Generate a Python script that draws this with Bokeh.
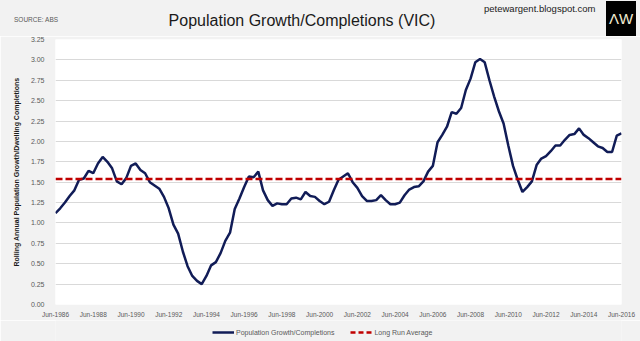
from bokeh.plotting import figure
from bokeh.layouts import column
from bokeh.models import Range1d, FixedTicker, Legend, LegendItem, Div
from bokeh.embed import file_html
from bokeh.resources import INLINE

# ---------------- data ----------------
years = list(range(1986, 2017))
months = ["Mar", "Jun", "Sep", "Dec"]
quarters = [f"{m}-{y}" for y in years for m in months]
quarters = quarters[quarters.index("Jun-1986"):quarters.index("Jun-2016") + 1]

ratio = [
    1.12, 1.18, 1.25, 1.33, 1.40, 1.53, 1.545, 1.64, 1.61, 1.73,
    1.81, 1.75, 1.67, 1.51, 1.475, 1.55, 1.70, 1.73, 1.65, 1.61,
    1.50, 1.46, 1.42, 1.32, 1.18, 0.98, 0.87, 0.65, 0.47, 0.35,
    0.29, 0.25, 0.35, 0.48, 0.52, 0.63, 0.78, 0.88, 1.17, 1.30,
    1.44, 1.57, 1.56, 1.63, 1.40, 1.28, 1.21, 1.24, 1.23, 1.23,
    1.30, 1.31, 1.29, 1.38, 1.33, 1.32, 1.27, 1.23, 1.26, 1.40,
    1.53, 1.57, 1.61, 1.50, 1.43, 1.33, 1.27, 1.27, 1.28, 1.34,
    1.28, 1.23, 1.23, 1.25, 1.34, 1.41, 1.44, 1.45, 1.51, 1.63,
    1.70, 1.99, 2.08, 2.18, 2.36, 2.34, 2.41, 2.63, 2.77, 2.97,
    3.01, 2.97, 2.75, 2.55, 2.37, 2.22, 1.95, 1.70, 1.53, 1.38,
    1.44, 1.51, 1.71, 1.79, 1.82, 1.88, 1.95, 1.95, 2.02, 2.08,
    2.09, 2.16, 2.08, 2.04, 1.99, 1.94, 1.92, 1.87, 1.87, 2.07,
    2.10,
]
long_run_average = 1.54

tick_labels = ["Jun-1986", "Jun-1988", "Jun-1990", "Jun-1992", "Jun-1994",
               "Jun-1996", "Jun-1998", "Jun-2000", "Jun-2002", "Jun-2004",
               "Jun-2006", "Jun-2008", "Jun-2010", "Jun-2012", "Jun-2014",
               "Jun-2016"]
y_ticks = [0.0, 0.25, 0.5, 0.75, 1.0, 1.25, 1.5, 1.75, 2.0, 2.25, 2.5, 2.75, 3.0, 3.25]

title_text = "Population Growth/Completions (VIC)"
source_text = "SOURCE: ABS"
blog_text = "petewargent.blogspot.com"
logo_text = "\u039bW"
y_label = "Rolling Annual Population Growth/Dwelling Completions"
series_name = "Population Growth/Completions"
avg_name = "Long Run Average"

# ---------------- style ----------------
FONT = "Liberation Sans"
BG = "#f2f2f2"
NAVY = "#111c57"
RED = "#c00000"
GREY_TXT = "#595959"

# ---------------- header (HTML text) ----------------
header_html = (
    f'<div style="position:relative;width:640px;height:36px;background:{BG};'
    f'font-family:Liberation Sans,Arial,sans-serif;overflow:hidden;">'
    f'<div style="position:absolute;left:14px;top:16px;font-size:6.5px;line-height:8px;'
    f'color:{GREY_TXT};white-space:nowrap;">{source_text}</div>'
    f'<div style="position:absolute;left:0;width:604px;top:11px;font-size:16px;line-height:20px;'
    f'color:#1a1a1a;text-align:center;white-space:nowrap;">{title_text}</div>'
    f'<div style="position:absolute;left:484px;top:3px;font-size:9.5px;line-height:12px;'
    f'color:#1a1a1a;white-space:nowrap;">{blog_text}</div>'
    f'<div style="position:absolute;left:606px;top:1px;width:30px;height:35px;background:#000;'
    f'color:#f2ecd2;font-size:15px;line-height:35px;text-align:center;">{logo_text}</div>'
    f'</div>'
)
header = Div(text=header_html, width=640, height=36, margin=0,
             styles={"background-color": BG})

# ---------------- main chart ----------------
x = list(range(len(ratio)))
p = figure(width=640, height=284, x_range=Range1d(0, len(ratio) - 1),
           y_range=Range1d(0, 3.25), toolbar_location=None, output_backend="svg",
           min_border_left=55, min_border_right=19, min_border_top=3,
           min_border_bottom=16)
p.background_fill_color = "white"
p.border_fill_color = BG
p.outline_line_color = None

p.xgrid.visible = False
p.ygrid.grid_line_color = "#d9d9d9"
p.ygrid.grid_line_width = 1
p.ygrid.ticker = FixedTicker(ticks=y_ticks)

p.yaxis.ticker = FixedTicker(ticks=y_ticks)
p.yaxis.major_label_overrides = {t: f"{t:.2f}" for t in y_ticks}
p.xaxis.ticker = FixedTicker(ticks=[quarters.index(t) for t in tick_labels])
p.xaxis.major_label_overrides = {quarters.index(t): t for t in tick_labels}

for ax in (p.xaxis[0], p.yaxis[0]):
    ax.axis_line_color = None
    ax.major_tick_line_color = None
    ax.minor_tick_line_color = None
    ax.major_label_text_font = FONT
    ax.major_label_text_color = GREY_TXT
p.xaxis.major_label_text_font_size = "6.5px"
p.yaxis.major_label_text_font_size = "7px"
p.xaxis.major_label_standoff = 0
p.yaxis.major_label_standoff = 5

p.yaxis.axis_label = y_label
p.yaxis.axis_label_text_font = FONT
p.yaxis.axis_label_text_font_size = "7px"
p.yaxis.axis_label_text_font_style = "bold"
p.yaxis.axis_label_text_color = "#1a1a1a"
p.yaxis.axis_label_standoff = 8

ln = p.line(x=x, y=ratio, line_color=NAVY, line_width=2.5)
avg = p.line(x=[0, len(ratio) - 1], y=[long_run_average, long_run_average],
             line_color=RED, line_width=2.5, line_dash="7 3")

# ---------------- footer with legend ----------------
foot = figure(width=640, height=21, x_range=Range1d(0, 1), y_range=Range1d(0, 1),
              toolbar_location=None, output_backend="svg",
              min_border_left=55, min_border_right=19, min_border_top=0,
              min_border_bottom=0)
foot.axis.visible = False
foot.grid.visible = False
foot.outline_line_color = None
foot.background_fill_color = BG
foot.border_fill_color = BG
# legend keys: same styles as the chart's lines (their points lie outside this strip's view)
k_ln = foot.line(x=[5, 6], y=[5, 6], line_color=NAVY, line_width=2.5)
k_avg = foot.line(x=[5, 6], y=[5, 6], line_color=RED, line_width=2.5, line_dash="5 3")

legend = Legend(items=[LegendItem(label=series_name, renderers=[k_ln]),
                       LegendItem(label=avg_name, renderers=[k_avg])],
                orientation="horizontal", location=(157, 4),
                background_fill_alpha=0, border_line_color=None,
                label_text_font=FONT, label_text_font_size="7px",
                label_text_color=GREY_TXT, glyph_width=22, glyph_height=10,
                label_height=10, label_standoff=2, spacing=16,
                padding=0, margin=0)
foot.add_layout(legend)

layout = column(header, p, foot, spacing=0)
open("out.html", "w").write(file_html(layout, INLINE))
